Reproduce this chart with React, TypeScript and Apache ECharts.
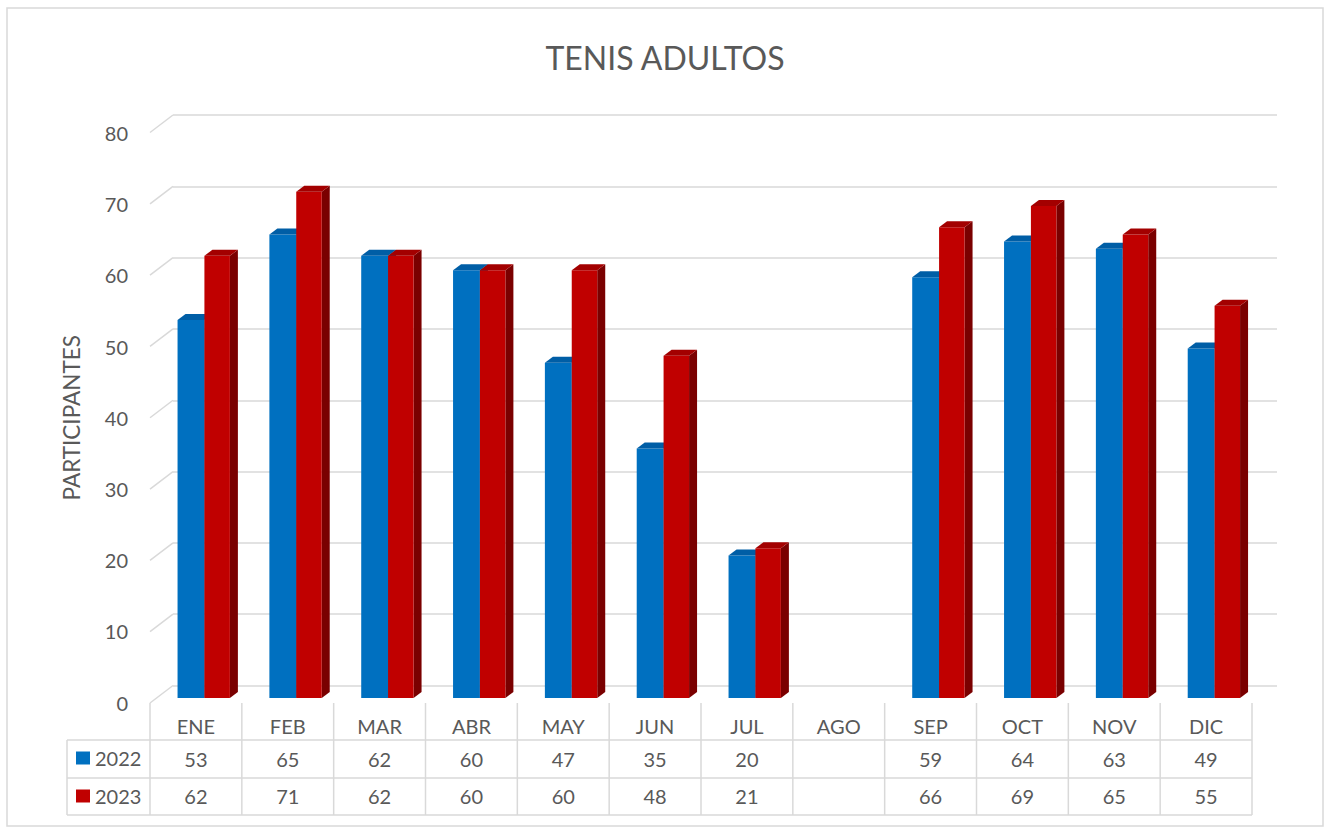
import React, { useEffect, useRef } from "react";
import * as echarts from "echarts";

const categories = ["ENE", "FEB", "MAR", "ABR", "MAY", "JUN", "JUL", "AGO", "SEP", "OCT", "NOV", "DIC"];
const seriesNames = ["2022", "2023"];
const values2022: (number | null)[] = [53, 65, 62, 60, 47, 35, 20, null, 59, 64, 63, 49];
const values2023: (number | null)[] = [62, 71, 62, 60, 60, 48, 21, null, 66, 69, 65, 55];
const yTicks = [0, 10, 20, 30, 40, 50, 60, 70, 80];

const TEXT = "#595959";
const GRID = "#d9d9d9";
const FONT = "Lato";

const BLUE = { front: "#0070C0", top: "#005ea6", side: "#004f8a" };
const RED = { front: "#C00000", top: "#a30000", side: "#7a0000" };

const DX = 8;
const DY = -6;

function makeBarRender(colors: typeof BLUE, startFrac: number, endFrac: number) {
  return (params: any, api: any) => {
    const v = api.value(1);
    if (v == null || isNaN(v)) return null;
    const top = api.coord([api.value(0), v]);
    const base = api.coord([api.value(0), 0]);
    const bw = api.size([1, 0])[0];
    const x0 = top[0] + startFrac * bw;
    const x1 = top[0] + endFrac * bw;
    const yt = top[1];
    const yb = base[1];
    return {
      type: "group",
      children: [
        {
          type: "polygon",
          shape: { points: [[x1, yt], [x1 + DX, yt + DY], [x1 + DX, yb + DY], [x1, yb]] },
          style: { fill: colors.side },
        },
        {
          type: "rect",
          shape: { x: x0, y: yt, width: x1 - x0, height: yb - yt },
          style: { fill: colors.front },
        },
        {
          type: "polygon",
          shape: { points: [[x0, yt], [x1, yt], [x1 + DX, yt + DY], [x0 + DX, yt + DY]] },
          style: { fill: colors.top },
        },
      ],
    };
  };
}

export default function App() {
  const ref = useRef<HTMLDivElement>(null);

  useEffect(() => {
    if (!ref.current) return;
    const chart = echarts.init(ref.current, null, { renderer: "svg" });

    const tableLeft = 150;
    const tableRight = 1252;
    const colW = (tableRight - tableLeft) / categories.length;
    const tableLines: any[] = [];
    const lineStyle = { stroke: GRID, lineWidth: 1.5 };
    [740, 778, 815].forEach((y) =>
      tableLines.push({ type: "line", shape: { x1: 67, y1: y, x2: tableRight, y2: y }, style: lineStyle, silent: true })
    );
    for (let i = 0; i <= categories.length; i++) {
      const x = tableLeft + i * colW;
      tableLines.push({ type: "line", shape: { x1: x, y1: 703, x2: x, y2: 815 }, style: lineStyle, silent: true });
    }
    tableLines.push({ type: "line", shape: { x1: 67, y1: 740, x2: 67, y2: 815 }, style: lineStyle, silent: true });

    const labelBase = { fontFamily: FONT, fontSize: 20, color: TEXT, lineHeight: 20 };

    chart.setOption({
      animation: false,
      backgroundColor: "#ffffff",
      title: {
        text: "TENIS ADULTOS",
        left: "center",
        top: 32,
        textStyle: { fontFamily: FONT, fontSize: 32, fontWeight: "normal", color: TEXT, lineHeight: 40 },
      },
      legend: {
        orient: "vertical",
        left: 71,
        top: 743,
        itemWidth: 14,
        itemHeight: 13,
        itemGap: 18,
        icon: "rect",
        data: seriesNames,
        textStyle: { fontFamily: FONT, fontSize: 20, color: TEXT, lineHeight: 20 },
        selectedMode: false,
      },
      grid: [
        { left: 150, right: 78, top: 127.5, bottom: 130 },
        { left: 173, right: 53, top: 115, bottom: 142.5 },
        { left: 150, right: 78, top: 133, bottom: 125.5 },
      ],
      xAxis: [
        {
          gridIndex: 0,
          type: "category",
          data: categories,
          position: "bottom",
          axisLine: { show: false },
          axisTick: { show: false },
          axisLabel: { ...labelBase, interval: 0, margin: 18 },
        },
        {
          gridIndex: 0,
          type: "category",
          data: categories,
          position: "bottom",
          offset: 0,
          axisLine: { show: false },
          axisTick: { show: false },
          axisLabel: {
            ...labelBase,
            interval: 0,
            margin: 51,
            formatter: (_v: string, i: number) => (values2022[i] == null ? "" : String(values2022[i])),
          },
        },
        {
          gridIndex: 0,
          type: "category",
          data: categories,
          position: "bottom",
          offset: 0,
          axisLine: { show: false },
          axisTick: { show: false },
          axisLabel: {
            ...labelBase,
            interval: 0,
            margin: 88,
            formatter: (_v: string, i: number) => (values2023[i] == null ? "" : String(values2023[i])),
          },
        },
        { gridIndex: 1, type: "value", min: 0, max: 1, show: false },
        { gridIndex: 2, type: "value", min: 0, max: 1, show: false },
      ],
      yAxis: [
        { gridIndex: 0, type: "value", min: 0, max: 80, interval: 10, show: false },
        {
          gridIndex: 1,
          type: "value",
          min: 0,
          max: 80,
          interval: 10,
          axisLine: { show: false },
          axisTick: { show: false },
          axisLabel: { show: false },
          splitLine: { show: true, lineStyle: { color: GRID, width: 1.5 } },
        },
        {
          gridIndex: 2,
          type: "value",
          min: 0,
          max: 80,
          interval: 10,
          axisLine: { show: false },
          axisTick: { show: false },
          splitLine: { show: false },
          axisLabel: { ...labelBase, margin: 22 },
          name: "PARTICIPANTES",
          nameLocation: "middle",
          nameGap: 67,
          nameTextStyle: { fontFamily: FONT, fontSize: 22.5, color: TEXT },
        },
      ],
      graphic: [
        {
          type: "rect",
          shape: { x: 7, y: 8, width: 1316, height: 818 },
          style: { fill: "none", stroke: GRID, lineWidth: 1.5 },
          silent: true,
          z: -10,
        },
        ...tableLines,
      ],
      series: [
        {
          type: "custom",
          name: "diagonals",
          xAxisIndex: 3,
          yAxisIndex: 1,
          silent: true,
          data: yTicks.map((t) => [0, t]),
          renderItem: (params: any, api: any) => {
            const p = api.coord([0, api.value(1)]);
            return {
              type: "line",
              shape: { x1: p[0], y1: p[1], x2: p[0] - 23, y2: p[1] + 17.5 },
              style: { stroke: GRID, lineWidth: 1.5 },
            };
          },
          z: 1,
        },
        {
          type: "custom",
          name: seriesNames[0],
          xAxisIndex: 0,
          yAxisIndex: 0,
          itemStyle: { color: BLUE.front },
          data: values2022.map((v, i) => [i, v == null ? "-" : v]),
          renderItem: makeBarRender(BLUE, -0.2, 0.0925),
          z: 2,
        },
        {
          type: "custom",
          name: seriesNames[1],
          xAxisIndex: 0,
          yAxisIndex: 0,
          itemStyle: { color: RED.front },
          data: values2023.map((v, i) => [i, v == null ? "-" : v]),
          renderItem: makeBarRender(RED, 0.0925, 0.37),
          z: 3,
        },
      ],
    });

    return () => chart.dispose();
  }, []);

  return <div ref={ref} style={{ position: "fixed", left: 0, top: 0, width: 1330, height: 828 }} />;
}
